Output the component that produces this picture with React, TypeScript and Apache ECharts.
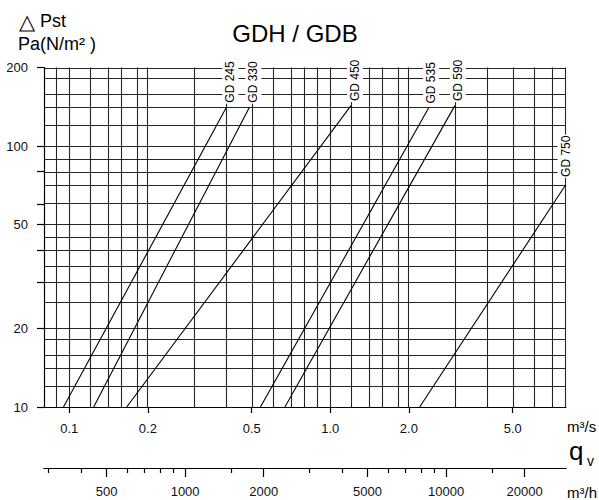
import React, { useEffect, useRef } from "react";
import * as echarts from "echarts";

// ---- data (flow in m³/s, static pressure in Pa) ----
const curveNames = ["GD 245", "GD 330", "GD 450", "GD 535", "GD 590", "GD 750"];
const gd245 = [[0.095, 10], [0.4, 141]];
const gd330 = [[0.124, 10], [0.49, 141]];
const gd450 = [[0.166, 10], [1.2, 143]];
const gd535 = [[0.54, 10], [2.38, 140]];
const gd590 = [[0.67, 10], [3.0, 143]];
const gd750 = [[2.2, 10], [7.97, 71]];
const curveData = [gd245, gd330, gd450, gd535, gd590, gd750];

const xGridValues = [0.08, 0.09, 0.1, 0.12, 0.14, 0.16, 0.18, 0.2, 0.3, 0.4, 0.5, 0.6, 0.7, 0.8, 0.9, 1, 1.2, 1.4, 1.6, 1.8, 2, 3, 4, 5, 6, 7, 8];
const yGridValues = [10, 12, 14, 16, 18, 20, 25, 30, 35, 40, 45, 50, 60, 70, 80, 90, 100, 120, 140, 160, 180, 200];
const xTickValues = [0.1, 0.2, 0.5, 1, 2, 5];
const xTickLabels = ["0.1", "0.2", "0.5", "1.0", "2.0", "5.0"];
const yTickValues = [200, 100, 80, 60, 50, 40, 30, 20, 10];
const yLabelValues = [200, 100, 50, 20, 10];
const yLabelTexts = ["200", "100", "50", "20", "10"];
const hourMinorTicks = [300, 400, 600, 700, 800, 900, 1500, 3000, 4000, 6000, 7000, 8000, 9000, 15000];
const hourMajorTicks = [500, 1000, 2000, 5000, 10000, 20000];
const hourMajorLabels = ["500", "1000", "2000", "5000", "10000", "20000"];
const xMin = 0.08;
const xMax = 8;
const yMin = 10;
const yMax = 200;
const SECONDS_PER_HOUR = 3600;

// ---- styling ----
const FONT = '"Liberation Sans", Arial, sans-serif';
const INK = "#000";
const GRID_INK = "#000";
const labelNudges = [[4, -3.5], [4, -3.5], [4, -3.5], [2.5, -3.5], [3, -3.5], [0, -7]];

const lg = (v: number) => Math.log10(v);

const fmt = (values: number[], texts: string[]) => (v: number) => {
  const i = values.findIndex((x) => Math.abs(lg(x) - v) < 1e-6);
  return i >= 0 ? texts[i] : "";
};

export default function App() {
  const ref = useRef<HTMLDivElement>(null);

  useEffect(() => {
    const el = ref.current;
    if (!el) return;
    const chart = echarts.init(el, null, { renderer: "svg" });

    const axisLine = { show: true, onZero: false, lineStyle: { color: INK, width: 1.2 } };

    const series: any[] = curveNames.map((name, i) => ({
      name,
      type: "line",
      data: curveData[i].map(([x, y]) => [lg(x), lg(y)]),
      symbol: "none",
      silent: true,
      clip: false,
      z: 3,
      lineStyle: { color: INK, width: 1.1 },
      emphasis: { disabled: true },
    }));

    series[0].markLine = {
      silent: true,
      symbol: ["none", "none"],
      label: { show: false },
      emphasis: { disabled: true },
      lineStyle: { color: GRID_INK, width: 1.1, type: "solid", opacity: 0.85 },
      data: [
        ...xGridValues.map((v) => ({ xAxis: lg(v) })),
        ...yGridValues.map((v) => ({ yAxis: lg(v) })),
      ],
    };

    const option: any = {
      animation: false,
      backgroundColor: "#fff",
      grid: { left: 44, right: 33, top: 67.6, bottom: 93, containLabel: false },
      xAxis: [
        {
          type: "value",
          min: lg(xMin),
          max: lg(xMax),
          position: "bottom",
          axisLine,
          axisTick: { show: true, customValues: xTickValues.map(lg), length: 6, lineStyle: { color: INK, width: 1.2 } },
          axisLabel: {
            show: true,
            customValues: xTickValues.map(lg),
            formatter: fmt(xTickValues, xTickLabels),
            margin: 15,
            fontSize: 13,
            color: "#111",
            fontFamily: FONT,
          },
          splitLine: { show: false },
        },
        {
          type: "value",
          min: lg(xMin * SECONDS_PER_HOUR),
          max: lg(xMax * SECONDS_PER_HOUR),
          position: "bottom",
          offset: 61,
          axisLine,
          axisTick: { show: true, customValues: hourMinorTicks.map(lg), length: 5, lineStyle: { color: INK, width: 1.2 } },
          axisLabel: { show: false },
          splitLine: { show: false },
        },
        {
          type: "value",
          min: lg(xMin * SECONDS_PER_HOUR),
          max: lg(xMax * SECONDS_PER_HOUR),
          position: "bottom",
          offset: 61,
          axisLine,
          axisTick: { show: true, customValues: hourMajorTicks.map(lg), length: 9, lineStyle: { color: INK, width: 1.2 } },
          axisLabel: {
            show: true,
            customValues: hourMajorTicks.map(lg),
            formatter: fmt(hourMajorTicks, hourMajorLabels),
            margin: 17,
            fontSize: 13,
            color: "#111",
            fontFamily: FONT,
          },
          splitLine: { show: false },
        },
      ],
      yAxis: {
        type: "value",
        min: lg(yMin),
        max: lg(yMax),
        axisLine,
        axisTick: { show: true, customValues: yTickValues.map(lg), length: 7, lineStyle: { color: INK, width: 1.2 } },
        axisLabel: {
          show: true,
          customValues: yLabelValues.map(lg),
          formatter: fmt(yLabelValues, yLabelTexts),
          margin: 16,
          fontSize: 13,
          color: "#111",
          fontFamily: FONT,
          padding: [4, 0, 0, 0],
        },
        splitLine: { show: false },
      },
      series,
    };

    chart.setOption(option);

    const curveLabels = curveNames.map((name, i) => {
      const pts = curveData[i];
      const last = pts[pts.length - 1];
      const p = chart.convertToPixel({ gridIndex: 0 }, [lg(last[0]), lg(last[1])]) as number[];
      return {
        type: "text",
        x: p[0] + labelNudges[i][0],
        y: p[1] + labelNudges[i][1],
        rotation: Math.PI / 2,
        z: 100,
        silent: true,
        style: {
          text: name,
          fontSize: 12,
          fontFamily: FONT,
          fill: INK,
          align: "left",
          verticalAlign: "middle",
          backgroundColor: "#fff",
          padding: [2, 1],
        },
      };
    });

    const texts = [
      { text: "{t|△} Pst", x: 19, y: 21, fontSize: 18, align: "left" },
      { text: "GDH / GDB", x: 295, y: 33, fontSize: 24, align: "center" },
      { text: "Pa(N/m² )", x: 18, y: 44, fontSize: 18, align: "left" },
      { text: "m³/s", x: 567, y: 426.5, fontSize: 15, align: "left" },
      { text: "q", x: 569, y: 450.5, fontSize: 26, align: "left" },
      { text: "v", x: 587, y: 461, fontSize: 14, align: "left" },
      { text: "m³/h", x: 567, y: 492.5, fontSize: 15, align: "left" },
    ].map((t) => ({
      type: "text",
      x: t.x,
      y: t.y,
      z: 100,
      silent: true,
      style: {
        text: t.text,
        fontSize: t.fontSize,
        fontFamily: FONT,
        fill: INK,
        align: t.align,
        verticalAlign: "middle",
        rich: {
          t: { fontSize: 21, fontFamily: FONT, fill: INK },
        },
      },
    }));

    chart.setOption({ graphic: [...curveLabels, ...texts] });

    return () => {
      chart.dispose();
    };
  }, []);

  return (
    <div
      ref={ref}
      style={{ position: "fixed", left: 0, top: 0, width: 599, height: 500, background: "#fff" }}
    />
  );
}
